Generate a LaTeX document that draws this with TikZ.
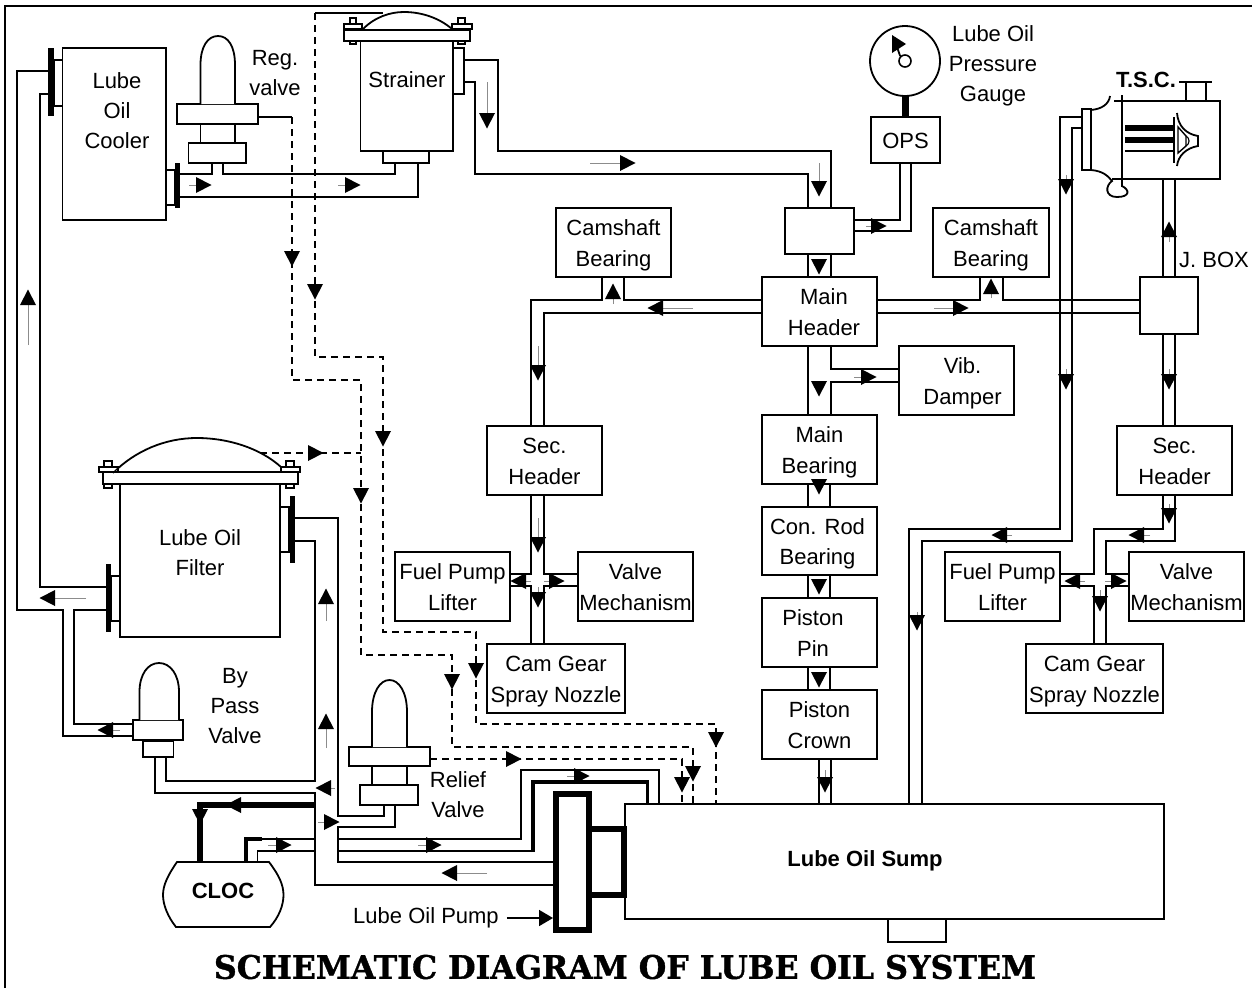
\documentclass[tikz,border=0pt]{standalone}
\usepackage{fontspec}
\setmainfont{Liberation Sans}
\newfontfamily\ttlfont{DejaVu Serif}[BoldFeatures={FakeBold=1.2}]
\usetikzlibrary{arrows.meta}
\tikzset{
  pipe/.style={draw=black,line width=1.8pt,line join=miter},
  heavypipe/.style={draw=black,line width=3.2pt,line join=miter},
  boldpipe/.style={draw=black,line width=6.5pt,line join=miter},
  dashpipe/.style={draw=black,line width=1.6pt,dash pattern=on 7pt off 5pt},
  flowtail/.style={draw=black!45,line width=0.7pt},
  bxs/.style={draw=black,line width=1.8pt,fill=white,inner sep=0pt,outer sep=0pt,align=center,
    font=\fontsize{22}{30.5}\selectfont},
  bars/.style={draw=none,fill=black,inner sep=0pt,outer sep=0pt},
  lab/.style={inner sep=0pt,outer sep=0pt,align=center,font=\fontsize{22}{30}\selectfont},
  blab/.style={lab,font=\fontsize{22}{30}\selectfont\bfseries},
}
% [options]{name}{x0}{y0}{x1}{y1}
\newcommand\bxn[6][]{\node[bxs,minimum width={(#5-#3)*1pt},minimum height={(#6-#4)*1pt},#1] (#2) at ({(#3+#5)/2},{(#4+#6)/2}) {};}
% [options]{name}{x0}{y0}{x1}{y1}{text}
\newcommand\bxt[7][]{\node[bxs,minimum width={(#5-#3)*1pt},minimum height={(#6-#4)*1pt},#1] (#2) at ({(#3+#5)/2},{(#4+#6)/2}) {\rule{0pt}{21.6pt}#7\rule[-5pt]{0pt}{5pt}};}
\newcommand\barn[5]{\node[bars,minimum width={(#4-#2)*1pt},minimum height={(#5-#3)*1pt}] (#1) at ({(#2+#4)/2},{(#3+#5)/2}) {};}
% flow marker: {x}{y}{angle}{tail length}; (x,y) is the centre of the base
\newcommand\fa[4]{\begin{scope}[shift={(#1,#2)},rotate=#3]
  \draw[flowtail] (-#4,0)--(0,0);
  \fill[black] (0,-8)--(15.5,0)--(0,8)--cycle;
\end{scope}}
\begin{document}
\begin{tikzpicture}[x=1pt,y=-1pt]
\useasboundingbox (0,0) rectangle (1252,988);
\draw[line width=1.6pt] (5,988)--(5,6)--(1252,6);

% ---------- named parts
\bxn{cooler}{62.5}{48}{166}{220}
\bxn{coolLf}{54}{60}{62.5}{106}
\bxn{coolRf}{166}{170}{175}{205}
\barn{barCL}{48}{48}{54}{116}
\barn{barCR}{175}{163}{180}{208}
\bxn{regU}{177}{104}{258}{124}
\bxn{regN}{200.5}{124}{235}{143}
\bxn{regL}{188.5}{143}{246}{163}
\bxn{strB}{383}{151}{429}{163}
\bxn{strP}{453}{48}{464}{94}
\bxn{bpvU}{133}{720}{183}{740}
\bxn{bpvL}{143}{741}{173.5}{757}
\bxn{rvU}{349}{747}{430}{766}
\bxn{rvN}{372}{766}{407}{785}
\bxn{rvL}{360}{785}{418}{805}
\bxn{filtFL}{111}{576}{120}{621}
\bxn{filtFR}{280}{507}{289}{552}
\barn{barFL}{105.5}{564}{110.5}{632}
\barn{barFR}{289.5}{496}{294.5}{563}
\bxn{tsc}{1122}{101}{1220}{179}
\bxn{tscF}{1082}{109}{1091}{170}
\bxn{junc}{785}{208}{854}{254}
\bxn{jb}{1140}{277}{1198}{334}
\coordinate (clocN) at (223,862);

% ---------- solid pipes
\draw[pipe] (barCL.west |- 0,71)--(17,71)--(17,610)--(63,610)--(63,736)--(133,736);
\draw[pipe] (barCL.west |- 0,94)--(40,94)--(40,587)--(barFL.west |- 0,587);
\draw[pipe] (barFL.west |- 0,610)--(74,610)--(74,724)--(133,724);
\draw[pipe] (barCR.east |- 0,174)--(212,174)--(regL.south -| 212,0);
\draw[pipe] (regL.south -| 223,0)--(223,174)--(395,174)--(strB.south -| 395,0);
\draw[pipe] (barCR.east |- 0,197)--(418,197)--(strB.south -| 418,0);
\draw[pipe] (strP.east |- 0,60)--(498,60)--(498,151)--(831,151)--(junc.north -| 831,0);
\draw[pipe] (strP.east |- 0,82)--(475,82)--(475,174)--(808,174)--(junc.north -| 808,0);
\draw[pipe] (808,254)--(808,277);
\draw[pipe] (831,254)--(831,277);
\draw[pipe] (junc.east |- 0,220)--(900,220)--(900,163);
\draw[pipe] (junc.east |- 0,231)--(911,231)--(911,163);
% left header branch
\draw[pipe] (602,277)--(602,300)--(531,300)--(531,426);
\draw[pipe] (624,277)--(624,300)--(762,300);
\draw[pipe] (762,313)--(544,313)--(544,426);
\draw[pipe] (531,495)--(531,574)--(510,574);
\draw[pipe] (544,495)--(544,574)--(578,574);
\draw[pipe] (510,586)--(531,586)--(531,644);
\draw[pipe] (578,586)--(544,586)--(544,644);
% right header branch
\draw[pipe] (877,300)--(980,300)--(980,277);
\draw[pipe] (1003,277)--(1003,300)--(1140,300);
\draw[pipe] (877,313)--(1140,313);
\draw[pipe] (jb.north -| 1163,0)--(tsc.south -| 1163,0);
\draw[pipe] (jb.north -| 1175,0)--(tsc.south -| 1175,0);
\draw[pipe] (jb.south -| 1163,0)--(1163,426);
\draw[pipe] (jb.south -| 1175,0)--(1175,426);
\draw[pipe] (1163,495)--(1163,529)--(1094,529)--(1094,574)--(1060,574);
\draw[pipe] (1175,495)--(1175,541)--(1106,541)--(1106,574)--(1129,574);
\draw[pipe] (1060,586)--(1094,586)--(1094,644);
\draw[pipe] (1129,586)--(1106,586)--(1106,644);
% main column
\draw[pipe] (808,346)--(808,415);
\draw[pipe] (831,346)--(831,369)--(899,369);
\draw[pipe] (899,382)--(831,382)--(831,415);
\draw[pipe] (808,484)--(808,507);
\draw[pipe] (830,484)--(830,507);
\draw[pipe] (808,575)--(808,598);
\draw[pipe] (830,575)--(830,598);
\draw[pipe] (808,667)--(808,690);
\draw[pipe] (830,667)--(830,690);
\draw[pipe] (819,759)--(819,804);
\draw[pipe] (831,759)--(831,804);
% turbocharger return
\draw[pipe] (tscF.west |- 0,117)--(1060,117)--(1060,529)--(909,529)--(909,804);
\draw[pipe] (tscF.west |- 0,128)--(1072,128)--(1072,541)--(922,541)--(922,804);
% pump side
\draw[pipe] (bpvL.south -| 155,0)--(155,793)--(315,793)--(315,885)--(553,885);
\draw[pipe] (bpvL.south -| 166,0)--(166,781)--(315,781)--(315,541)--(barFR.east |- 0,541);
\draw[pipe] (barFR.east |- 0,518)--(338,518)--(338,816)--(384,816)--(rvL.south -| 384,0);
\draw[pipe] (rvL.south -| 395,0)--(395,827)--(338,827)--(338,862)--(553,862);
\draw[boldpipe] (315,805)--(200,805)--(clocN -| 200,0);
\draw[pipe] (315,839)--(262,839);
\draw[heavypipe] (262,839)--(246,839)--(clocN -| 246,0);
\draw[pipe] (315,851)--(257.5,851)--(clocN -| 257.5,0);
\draw[pipe] (338,839)--(521,839)--(521,770)--(659,770)--(659,804);
\draw[pipe] (338,851)--(533,851);
\draw[heavypipe] (533,852)--(533,782)--(647.5,782)--(647.5,804);

% ---------- pilot lines
\draw[pipe] (regU.east |- 0,117)--(292,117);
\draw[dashpipe] (292,117)--(292,380)--(361,380)--(361,655)--(452,655)--(452,747)--(693,747)--(693,804);
\draw[pipe] (315,13)--(383,13);
\draw[dashpipe] (315,13)--(315,357)--(383,357)--(383,632)--(476,632)--(476,724)--(716,724)--(716,804);
\draw[dashpipe] (260,453)--(361,453);
\draw[dashpipe] (rvU.east |- 0,759)--(682,759)--(682,804);

% ---------- boxes with text
\bxt{camL}{556}{208}{671}{277}{Camshaft\\Bearing}
\bxt{camR}{933}{208}{1049}{277}{Camshaft\\Bearing}
\bxt{ops}{871}{117}{940}{163}{OPS}
\bxt{mainh}{762}{277}{877}{346}{\hspace*{9pt}Main\\\hspace*{9pt}Header}
\bxt{vib}{899}{346}{1014}{415}{\hspace*{12pt}Vib.\\\hspace*{12pt}Damper}
\bxt{mb}{762}{415}{877}{484}{Main\\Bearing}
\bxt{con}{762}{507}{877}{575}{Con. Rod\hspace*{4pt}\\Bearing\hspace*{4pt}}
\bxt{pin}{762}{598}{877}{667}{Piston\hspace*{13pt}\\Pin\hspace*{13pt}}
\bxt{crown}{762}{690}{877}{759}{Piston\\Crown}
\bxt{secL}{487}{426}{602}{495}{Sec.\\Header}
\bxt{fpL}{395}{552}{510}{621}{Fuel Pump\\Lifter}
\bxt{vmL}{578}{552}{693}{621}{Valve\\Mechanism}
\bxt{cgL}{487}{644}{625}{713}{Cam Gear\\Spray Nozzle}
\bxt{secR}{1117}{426}{1232}{495}{Sec.\\Header}
\bxt{fpR}{945}{552}{1060}{621}{Fuel Pump\\Lifter}
\bxt{vmR}{1129}{552}{1244}{621}{Valve\\Mechanism}
\bxt{cgR}{1026}{644}{1163}{713}{Cam Gear\\Spray Nozzle}
\bxn{sump}{625}{804}{1164}{919}
\bxn{drain}{888}{919}{946}{942}
\node[blab] (sumpT) at (865,861) {Lube Oil Sump};
\node[bxs,line width=6pt,fill=none,minimum width=35pt,minimum height=66pt] (pumpB) at (606.5,862) {};
\node[bxs,line width=6pt,minimum width=33pt,minimum height=136pt] (pump) at (572.5,862) {};

% ---------- cooler, valves, strainer, filter
\draw[pipe,fill=white] (200.5,104)--(200.5,65) .. controls (200.5,46) and (208,36) .. (218,36) .. controls (228,36) and (235,46) .. (235,65)--(235,104);
\draw[pipe,fill=white] (139.5,720)--(139.5,692) .. controls (139.5,674) and (148,663) .. (159,663) .. controls (170,663) and (179,674) .. (179,692)--(179,720);
\draw[pipe,fill=white] (372,747)--(372,712) .. controls (372,692) and (380,680) .. (389.5,680) .. controls (399,680) and (407,692) .. (407,712)--(407,747);
\node[lab] (coolT) at (117,111) {Lube\\Oil\\Cooler};
\node[lab] (regT) at (275,73) {Reg.\\valve};
\node[lab] (bpvT) at (235,706) {By\\Pass\\Valve};
\node[lab] (rvT) at (458,795) {Relief\\Valve};

% strainer
\bxn{strC}{360.5}{41}{453}{151}
\node[lab] (strT) at (407,80) {Strainer};
\draw[pipe,fill=white] (363,29) .. controls (375,17) and (390,12) .. (404,12) .. controls (420,12) and (438,17) .. (452,29);
\bxn{strBL1}{350}{41}{356}{44}
\bxn{strBL2}{458}{41}{465}{44}
\bxn{strSL}{350}{18}{356}{24}
\bxn{strSR}{458}{18}{465}{24}
\bxn{strWL}{344}{24}{362}{29}
\bxn{strWR}{452}{24}{472}{29}
\bxn{strPl}{344}{30}{470}{41}

% filter
\bxn{filt}{120}{484}{280}{637}
\node[lab] (filtT) at (200,553) {Lube Oil\\Filter};
\draw[pipe] (113,473) .. controls (135,451) and (165,438) .. (197,438) .. controls (228,438) and (260,448) .. (281,467);
\bxn{fSL}{104}{461}{112}{467}
\bxn{fSR}{286}{461}{294}{467}
\bxn{fWL}{99}{467}{118}{472}
\bxn{fWR}{281}{467}{300}{472}
\bxn{fBL}{104}{484}{112}{488}
\bxn{fBR}{286}{484}{294}{488}
\bxn{fPl}{103}{472}{298}{484}
\draw[line width=1.4pt] (113,473)--(119,467);

% CLOC
\draw[pipe,fill=white] (177,862)--(269,862) .. controls (279,875) and (283.5,885) .. (283.5,895) .. controls (283.5,905) and (279,917) .. (270,927)--(176,927) .. controls (168,917) and (163,905) .. (163,895) .. controls (163,885) and (168,875) .. (177,862)--cycle;
\node[blab] (clocT) at (223,890.5) {CLOC};

% gauge
\node[draw,line width=1.8pt,circle,minimum size=70pt,inner sep=0pt] (gauge) at (905,61) {};
\node[draw,line width=1.6pt,circle,minimum size=12pt,inner sep=0pt] (hub) at (905,61) {};
\draw[line width=1.8pt] (hub.north west)--(897,47);
\fill (892,35)--(892,53)--(906,44)--cycle;
\node[bars,minimum width=7pt,minimum height=21pt] (stem) at (905,106.5) {};
\node[lab] (gaugeT) at (993,65.5) {Lube Oil\\Pressure\\Gauge};

% turbocharger
\draw[pipe] (1122,95)--(1122,187);
\draw[pipe] (1112,179)--(1130,179);
\draw[pipe] (1114,101)--(1122,101);
\draw[pipe] (1091,110) .. controls (1102,109) and (1109,104) .. (1110,96);
\draw[pipe] (1091,170) .. controls (1103,171) and (1108,176) .. (1112,181) .. controls (1105,186) and (1105,197) .. (1117,197) .. controls (1130,197) and (1130,190) .. (1122,186);
\node[bxs,minimum width=20pt,minimum height=19pt] (tscS) at (1196,91.5) {};
\draw[pipe] (1179,82)--(1212,82);
\barn{tB1}{1125}{125}{1174}{131}
\barn{tB2}{1125}{137}{1174}{143}
\draw[pipe] (1125,151)--(1174,151);
\draw[pipe] (1174,117)--(1174,163);
\draw[pipe] (1177,113) .. controls (1178,126) and (1186,134) .. (1198,136)--(1198,146) .. controls (1186,148) and (1178,156) .. (1177,166);
\draw[line width=1.4pt] (1178,127)--(1186,136)--(1186,146)--(1178,153)--cycle;
\draw[line width=1.2pt] (1186,136) .. controls (1190,138) and (1190,144) .. (1186,146);
\node[blab] (tscT) at (1146,80) {T.S.C.};
\node[lab] (jbT) at (1214,259.5) {J. BOX};

% pump label and its pointer
\node[lab] (lop) at (426,918) {Lube Oil Pump};
\draw[pipe,-{Triangle[length=14pt,width=16pt]},shorten <=8pt,shorten >=3pt] (lop.east)--(pump.west |- lop.east);

% ---------- flow markers
\fa{28}{305}{90}{40}
\fa{196}{185}{0}{7}
\fa{345}{185}{0}{7}
\fa{487}{113}{-90}{31}
\fa{620}{163}{0}{30}
\fa{819}{181}{-90}{18}
\fa{819}{259}{-90}{0}
\fa{871}{226}{0}{5}
\fa{613}{299}{90}{5}
\fa{663}{308}{180}{30}
\fa{538}{365}{-90}{19}
\fa{861}{377}{0}{7}
\fa{819}{381}{-90}{0}
\fa{538}{537}{-90}{19}
\fa{526}{581}{180}{5}
\fa{549}{581}{0}{5}
\fa{538}{592}{-90}{5}
\fa{953}{308}{0}{19}
\fa{991}{294}{90}{4}
\fa{1066}{179}{-90}{4}
\fa{1169}{237}{90}{5}
\fa{1066}{374}{-90}{5}
\fa{1169}{374}{-90}{5}
\fa{1169}{508}{-90}{4}
\fa{1144}{535}{180}{6}
\fa{1007}{535}{180}{5}
\fa{917}{615}{-90}{3}
\fa{1080}{581}{180}{5}
\fa{1111}{581}{0}{6}
\fa{1100}{596}{-90}{6}
\fa{819}{479}{-90}{0}
\fa{819}{579}{-90}{0}
\fa{819}{672}{-90}{0}
\fa{825}{777}{-90}{7}
\fa{55}{598}{180}{31}
\fa{113}{730}{180}{7}
\fa{326}{604}{90}{17}
\fa{326}{729}{90}{19}
\fa{331}{788}{180}{4}
\fa{241}{805}{180}{0}
\fa{200}{809}{-90}{0}
\fa{324}{822}{0}{6}
\fa{276}{845}{0}{8}
\fa{426}{845}{0}{8}
\fa{457}{873}{180}{30}
\fa{574}{776}{0}{7}
\fa{292}{251}{-90}{0}
\fa{315}{284}{-90}{0}
\fa{383}{431}{-90}{0}
\fa{361}{488}{-90}{0}
\fa{308}{453}{0}{0}
\fa{476}{663}{-90}{0}
\fa{452}{674}{-90}{0}
\fa{506}{759}{0}{0}
\fa{716}{732}{-90}{0}
\fa{693}{766}{-90}{0}
\fa{682}{777}{-90}{0}

% ---------- title
\node[inner sep=0pt,outer sep=0pt] (title) at (625,967) {\resizebox{822pt}{24pt}{\ttlfont\bfseries SCHEMATIC DIAGRAM OF LUBE OIL SYSTEM}};
\end{tikzpicture}
\end{document}
